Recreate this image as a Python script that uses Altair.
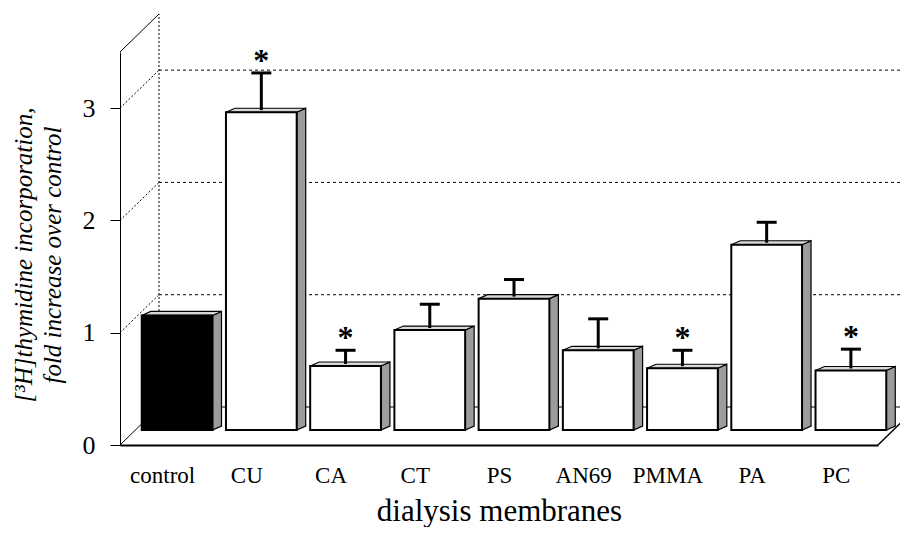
import json
import altair as alt
import pandas as pd

# ---------------- data ----------------
categories = ["control", "CU", "CA", "CT", "PS", "AN69", "PMMA", "PA", "PC"]
values = [1.02, 2.83, 0.57, 0.89, 1.17, 0.71, 0.55, 1.65, 0.53]
upper = [None, 3.18, 0.71, 1.12, 1.34, 0.99, 0.71, 1.85, 0.72]
significant = [False, True, True, False, False, False, True, False, True]
y_ticks = [0, 1, 2, 3]
y_max = 3.5

# ---------------- geometry / style ----------------
W, H = 758, 393
n = len(categories)
X_DOM = [-0.5, n - 0.5]
PX_X = W / n            # px per category slot
PX_Y = H / y_max        # px per unit
HALF = 0.42             # half bar width (slot units)
BX, BY = 15, -15        # bar depth shift (px)
WX, WY = 39, -38        # wall depth (px)
FDX = 9 / PX_X          # bar face depth in data units
FDY = 4 / PX_Y
CAP = 10 / PX_X
SERIF = "Liberation Serif"

xscale = alt.Scale(domain=X_DOM, nice=False, zero=False)
yscale = alt.Scale(domain=[0, y_max], nice=False, zero=False)
label_expr = json.dumps(categories) + "[datum.value]"
xaxis = alt.Axis(values=list(range(n)), labelExpr=label_expr, ticks=False, tickSize=0,
                 grid=False, domain=True, domainColor="black", domainWidth=2,
                 labelFont=SERIF, labelFontSize=23, labelColor="black", labelPadding=19,
                 title="dialysis membranes", titleFont=SERIF, titleFontSize=31,
                 titleFontWeight="normal", titleColor="black", titleBaseline="alphabetic",
                 titleY=75)
yaxis = alt.Axis(values=y_ticks, grid=False, domain=True, domainColor="black", domainWidth=1,
                 ticks=True, tickSize=10, tickColor="black", tickWidth=1,
                 labelFont=SERIF, labelFontSize=26, labelColor="black", labelPadding=15,
                 title=["[³H]thymidine incorporation,", "fold increase over control"],
                 titleFont=SERIF, titleFontStyle="italic", titleFontWeight="normal",
                 titleFontSize=25, titleColor="black", titleAngle=270, titleX=-97,
                 titleY=H / 2 + 6, titleBaseline="middle", titleAlign="center",
                 titleLineHeight=29)


def X(f):
    return alt.X(f, type="quantitative", scale=xscale, axis=xaxis)


def Y(f):
    return alt.Y(f, type="quantitative", scale=yscale, axis=yaxis)


# ---------------- tables ----------------
bars = pd.DataFrame({
    "idx": list(range(n)), "name": categories, "value": values,
    "fill": ["black"] + ["white"] * (n - 1),
})
bars["x0"] = bars["idx"] - HALF
bars["x1"] = bars["idx"] + HALF

top_rows, side_rows = [], []
for i, (c, v) in enumerate(zip(categories, values)):
    x0, x1 = i - HALF, i + HALF
    top_rows += [
        {"name": c, "x": x0, "y": v, "y2": v},
        {"name": c, "x": x0 + FDX, "y": v + FDY, "y2": v},
        {"name": c, "x": x1, "y": v + FDY, "y2": v},
        {"name": c, "x": x1 + FDX, "y": v + FDY, "y2": v + FDY},
    ]
    side_rows += [
        {"name": c, "x": x1, "y": v, "y2": 0},
        {"name": c, "x": x1 + FDX, "y": v + FDY, "y2": FDY},
    ]
top_df = pd.DataFrame(top_rows)
side_df = pd.DataFrame(side_rows)

err = pd.DataFrame({"idx": list(range(n)), "value": values, "upper": upper,
                    "sig": significant})
err = err[err["upper"].notna()].copy()
err["c0"] = err["idx"] - CAP
err["c1"] = err["idx"] + CAP
stars = err[err["sig"]].copy()
stars["star"] = "*"

grid_df = pd.DataFrame({"v": [t for t in y_ticks if t > 0]})
grid_df["xa"] = X_DOM[0]
grid_df["xb"] = X_DOM[1]
floor_df = pd.DataFrame({"v": [0], "xa": [X_DOM[0]], "xb": [X_DOM[1]]})
diag_solid = pd.DataFrame({"v": [0, y_max], "xa": [X_DOM[0]] * 2})
diag_dot = pd.DataFrame({"v": [t for t in y_ticks if t > 0], "xa": [X_DOM[0]] * 3})
right_diag = pd.DataFrame({"v": [0], "xa": [X_DOM[1]]})
back_vert = pd.DataFrame({"xa": [X_DOM[0]], "v0": [0], "v1": [y_max]})

DOT = [3, 3]

back_grid = alt.Chart(grid_df).mark_rule(
    color="black", strokeWidth=1, strokeDash=DOT,
    xOffset=WX, x2Offset=WX, yOffset=WY).encode(x=X("xa"), x2="xb", y=Y("v"))
back_floor = alt.Chart(floor_df).mark_rule(
    color="black", strokeWidth=1, xOffset=WX, x2Offset=WX, yOffset=WY).encode(
    x=X("xa"), x2="xb", y=Y("v"))
left_solid = alt.Chart(diag_solid).mark_rule(
    color="black", strokeWidth=1, x2Offset=WX, y2Offset=WY).encode(
    x=X("xa"), x2="xa", y=Y("v"), y2="v")
left_dot = alt.Chart(diag_dot).mark_rule(
    color="black", strokeWidth=1, strokeDash=[2, 2], x2Offset=WX, y2Offset=WY).encode(
    x=X("xa"), x2="xa", y=Y("v"), y2="v")
right_d = alt.Chart(right_diag).mark_rule(
    color="black", strokeWidth=1.5, x2Offset=WX, y2Offset=WY).encode(
    x=X("xa"), x2="xa", y=Y("v"), y2="v")
back_v = alt.Chart(back_vert).mark_rule(
    color="black", strokeWidth=1, strokeDash=[2, 2], xOffset=WX, yOffset=WY,
    y2Offset=WY).encode(x=X("xa"), y=Y("v0"), y2="v1")

side = alt.Chart(side_df).mark_area(
    fill="#9c9c9c", stroke="black", strokeWidth=1.2, opacity=1,
    xOffset=BX, yOffset=BY, y2Offset=BY).encode(
    x=X("x"), y=Y("y"), y2="y2", detail="name:N")
top = alt.Chart(top_df).mark_area(
    fill="#d8d8d8", stroke="black", strokeWidth=1.2, opacity=1,
    xOffset=BX, yOffset=BY, y2Offset=BY).encode(
    x=X("x"), y=Y("y"), y2="y2", detail="name:N")
front = alt.Chart(bars).mark_bar(
    stroke="black", strokeWidth=2, xOffset=BX, x2Offset=BX, yOffset=BY, y2Offset=BY).encode(
    x=X("x0"), x2="x1", y=Y("value"), y2=alt.datum(0),
    fill=alt.Fill("fill:N", scale=None))

ebar = alt.Chart(err).mark_rule(
    color="black", strokeWidth=3, xOffset=BX, yOffset=BY - 2, y2Offset=BY).encode(
    x=X("idx"), y=Y("value"), y2="upper")
ecap = alt.Chart(err).mark_rule(
    color="black", strokeWidth=3, xOffset=BX, x2Offset=BX, yOffset=BY).encode(
    x=X("c0"), x2="c1", y=Y("upper"))
star = alt.Chart(stars).mark_text(
    font=SERIF, fontSize=32, fontWeight="bold", color="black", baseline="alphabetic",
    dy=-2, xOffset=BX, yOffset=BY).encode(x=X("idx"), y=Y("upper"), text="star:N")

chart = alt.layer(
    back_grid, back_floor, left_solid, left_dot, right_d, back_v,
    side, top, front, ebar, ecap, star
).properties(
    width=W, height=H,
    autosize=alt.AutoSizeParams(type="none"),
    padding={"left": 112, "top": 44, "right": 22, "bottom": 82},
    background="white",
).configure_view(stroke=None)

chart.save("out.html", embed_options={"renderer": "svg", "actions": False})
